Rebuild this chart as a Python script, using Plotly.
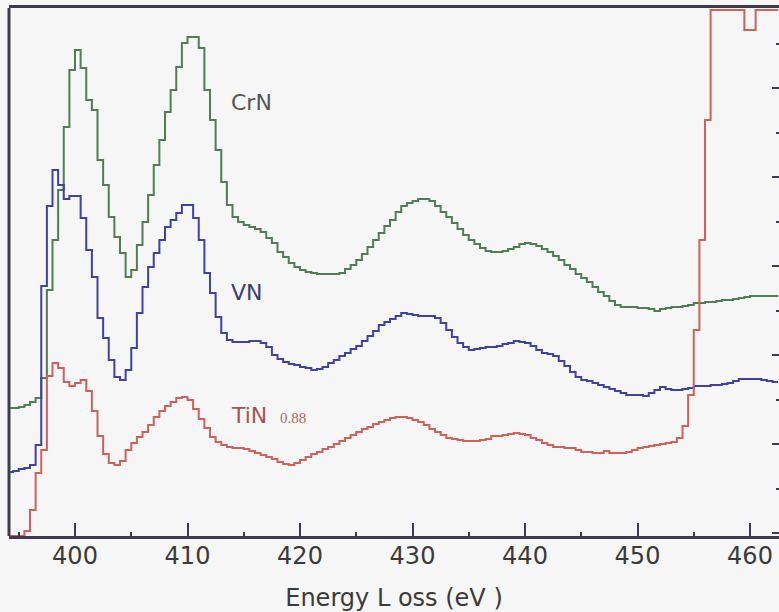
import numpy as np
import plotly.graph_objects as go

# Energy-loss channels (eV), 0.5 eV dispersion
energy = np.arange(394.0, 463.0, 0.5)

# N K-edge / Ti L-edge intensities (arbitrary units, offset spectra)
crn = [
    128, 128, 129, 131, 134, 138, 158, 246, 296, 346,
    409, 466, 486, 468, 436, 426, 376, 351, 319, 299,
    283, 259, 266, 291, 314, 341, 371, 396, 424, 446,
    469, 493, 499, 499, 488, 446, 416, 386, 354, 331,
    319, 314, 311, 309, 307, 304, 298, 293, 284, 279,
    273, 269, 266, 264, 263, 262, 262, 262, 262, 263,
    267, 271, 276, 282, 289, 296, 303, 310, 316, 324,
    330, 333, 335, 337, 337, 335, 330, 324, 319, 313,
    307, 301, 296, 292, 288, 285, 284, 284, 285, 287,
    289, 292, 293, 292, 290, 287, 284, 280, 276, 271,
    267, 262, 258, 254, 249, 244, 240, 235, 231, 229,
    229, 229, 228, 228, 227, 225, 227, 228, 229, 229,
    230, 231, 233, 233, 234, 234, 235, 236, 236, 237,
    238, 239, 240, 240, 240, 240, 240, 240,
]

vn = [
    64, 65, 67, 68, 71, 91, 250, 330, 366, 351,
    337, 340, 340, 318, 286, 259, 218, 198, 176, 159,
    156, 166, 188, 223, 249, 269, 283, 296, 309, 316,
    323, 331, 331, 318, 296, 263, 243, 219, 203, 196,
    194, 194, 194, 195, 195, 193, 189, 181, 177, 174,
    172, 171, 169, 168, 166, 167, 169, 173, 176, 180,
    183, 187, 190, 195, 200, 205, 211, 214, 217, 220,
    223, 222, 221, 220, 220, 220, 218, 213, 206, 199,
    193, 189, 186, 187, 188, 189, 189, 190, 192, 193,
    195, 194, 193, 190, 186, 183, 182, 180, 175, 170,
    164, 159, 156, 155, 153, 151, 149, 147, 145, 143,
    141, 141, 141, 140, 143, 146, 149, 147, 146, 146,
    147, 148, 150, 150, 150, 151, 151, 152, 153, 155,
    157, 157, 157, 157, 156, 155, 154, 154,
]

tin = [
    0, 0, 0, 5, 26, 63, 86, 160, 173, 168,
    154, 150, 153, 156, 145, 125, 100, 82, 73, 71,
    75, 86, 93, 99, 104, 111, 119, 125, 130, 134,
    138, 139, 136, 127, 117, 108, 99, 94, 91, 89,
    88, 88, 87, 85, 83, 81, 79, 77, 74, 72,
    71, 73, 76, 79, 82, 84, 87, 89, 92, 95,
    98, 101, 104, 107, 109, 112, 114, 116, 118, 119,
    119, 118, 116, 114, 111, 107, 104, 101, 98, 97,
    96, 95, 95, 95, 96, 97, 100, 100, 101, 102,
    103, 102, 101, 98, 96, 93, 91, 89, 89, 88,
    88, 86, 84, 84, 83, 83, 85, 83, 83, 83,
    84, 86, 88, 89, 90, 91, 92, 93, 94, 98,
    110, 141, 206, 296, 416, 526, 526, 526, 526, 526,
    526, 506, 506, 526, 526, 526, 526, 526,
]

series = [
    ("CrN", crn, "#4e7d56"),
    ("VN", vn, "#4040a6"),
    ("TiN0.88", tin, "#cf605a"),
]

AXIS = "#3c3c4a"
BG = "#f6f6f6"

fig = go.Figure()
for name, vals, color in series:
    fig.add_trace(go.Scatter(
        x=energy, y=vals, name=name, mode="lines",
        line=dict(color=color, width=2, shape="hv"),
        hoverinfo="skip", showlegend=False,
    ))

# Spectrum labels
label_font = dict(family="DejaVu Sans", size=22)
fig.add_annotation(x=415.7, y=434, text="CrN", showarrow=False,
                   font=dict(**label_font, color="#555555"))
fig.add_annotation(x=415.3, y=244, text="VN", showarrow=False,
                   font=dict(**label_font, color="#3e3e70"))
fig.add_annotation(x=415.45, y=121, text="TiN", showarrow=False,
                   font=dict(**label_font, color="#a65550"))
fig.add_annotation(x=419.35, y=118, text="0.88", showarrow=False,
                   font=dict(family="Liberation Serif", size=15, color="#b36560"))

# Left frame edge
fig.add_shape(type="line", xref="paper", yref="paper", x0=0, x1=0, y0=0, y1=1,
              line=dict(color=AXIS, width=3))

fig.update_layout(
    width=779, height=612,
    margin=dict(l=9, r=0, t=8, b=76),
    paper_bgcolor=BG, plot_bgcolor=BG,
    showlegend=False,
    xaxis=dict(
        range=[394.133, 462.578], showgrid=False, zeroline=False,
        showline=True, linecolor=AXIS, linewidth=3, mirror=True,
        ticks="inside", ticklen=13, tickwidth=2, tickcolor=AXIS,
        tick0=400, dtick=10, ticklabelstandoff=-4,
        minor=dict(ticks="inside", ticklen=4, tickwidth=2, tickcolor=AXIS,
                   tick0=395, dtick=5),
        tickfont=dict(family="DejaVu Sans", size=24, color="#3a3a3a"),
        title=dict(text="Energy L oss (eV )", standoff=21,
                   font=dict(family="DejaVu Sans", size=24, color="#3a3a3a")),
        automargin=False,
    ),
    yaxis=dict(
        range=[0, 528], side="right", showgrid=False, zeroline=False,
        showline=False, showticklabels=False,
        ticks="inside", ticklen=7, tickwidth=2, tickcolor=AXIS,
        tick0=3, dtick=89,
        minor=dict(ticks="inside", ticklen=3, tickwidth=2, tickcolor=AXIS,
                   tick0=3, dtick=44.5),
        automargin=False,
    ),
)

fig.write_html("out.html")
